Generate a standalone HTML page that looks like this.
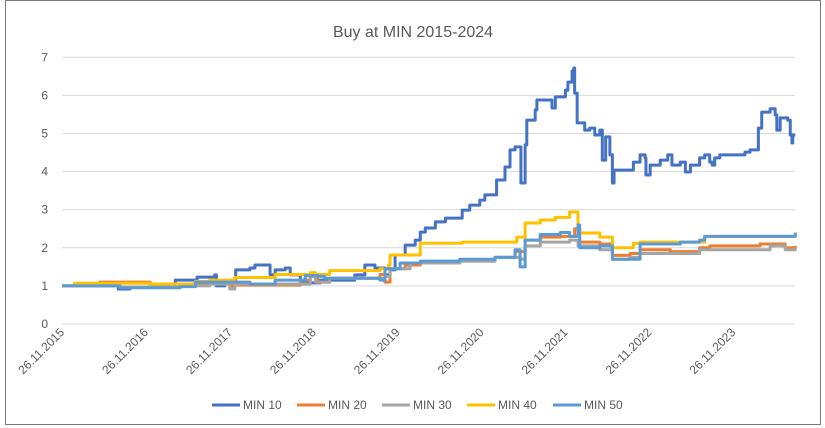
<!DOCTYPE html>
<html><head><meta charset="utf-8"><style>
body{margin:0;background:#fff;}
svg{display:block;font-family:"Liberation Sans",sans-serif;}
</style></head><body>
<svg id="chart" width="825" height="428">
<rect x="0" y="0" width="825" height="428" fill="#fff"/>
<rect x="5.5" y="0.5" width="815" height="424" fill="none" stroke="#7a7a7a" stroke-width="1"/>
<text x="413" y="37" text-anchor="middle" font-size="16" fill="#595959">Buy at MIN 2015-2024</text>
<g id="grid"></g><g id="yt"></g><g id="xt"></g><g id="series"></g><g id="legend"></g>
</svg>
<script>
const yTicks=[0,1,2,3,4,5,6,7];
const xTickLabels=["26.11.2015","26.11.2016","26.11.2017","26.11.2018","26.11.2019","26.11.2020","26.11.2021","26.11.2022","26.11.2023"];
const seriesNames=["MIN 10","MIN 20","MIN 30","MIN 40","MIN 50"];
const seriesColors=["#4472c4","#ed7d31","#a5a5a5","#ffc000","#5b9bd5"];
// years since 26.11.2015
const t10=[0,0.45,0.67,0.81,1.29,1.35,1.59,1.61,1.82,1.84,1.94,2.03,2.07,2.18,2.24,2.30,2.42,2.48,2.54,2.66,2.72,2.84,3.08,3.37,3.49,3.61,3.73,3.85,3.91,3.97,4.09,4.21,4.27,4.33,4.45,4.57,4.74,4.77,4.86,4.98,5.04,5.16,5.18,5.28,5.34,5.40,5.46,5.47,5.52,5.54,5.64,5.66,5.82,5.84,5.88,6.00,6.03,6.08,6.10,6.11,6.14,6.23,6.29,6.35,6.41,6.44,6.48,6.53,6.56,6.58,6.77,6.81,6.89,6.95,6.96,7.01,7.13,7.22,7.27,7.37,7.43,7.49,7.60,7.66,7.72,7.75,7.78,7.84,8.08,8.14,8.20,8.30,8.34,8.44,8.50,8.52,8.56,8.65,8.68,8.70,8.71,8.74];
const v10=[1.0,1.0,0.92,0.97,1.02,1.15,1.15,1.23,1.29,1.0,1.08,1.08,1.42,1.42,1.47,1.55,1.55,1.29,1.42,1.47,1.29,1.08,1.15,1.15,1.29,1.55,1.47,1.29,1.42,1.81,2.07,2.2,2.41,2.52,2.68,2.78,2.78,2.99,3.12,3.25,3.39,3.39,3.78,4.12,4.57,4.65,4.65,3.7,4.7,5.35,5.62,5.88,5.88,5.67,5.96,6.14,6.35,6.64,6.72,6.06,5.28,5.09,5.14,4.96,5.09,4.3,4.91,4.44,3.7,4.04,4.04,4.25,4.44,4.36,3.91,4.17,4.3,4.44,4.17,4.25,3.99,4.17,4.36,4.44,4.25,4.17,4.36,4.44,4.44,4.51,4.57,5.14,5.56,5.65,5.49,5.09,5.41,5.35,4.96,4.75,4.96,4.96];
const t20=[0,0.15,0.45,1.05,1.88,2.03,2.06,2.84,2.96,3.05,3.19,3.79,3.85,3.91,4.09,4.27,4.74,5.16,5.40,5.52,5.70,5.94,6.11,6.17,6.41,6.56,6.77,6.89,7.25,7.60,7.72,8.32,8.62,8.74];
const v20=[1.0,1.06,1.1,1.05,1.1,0.95,1.02,1.15,1.3,1.1,1.2,1.3,1.1,1.45,1.55,1.6,1.65,1.75,1.9,2.2,2.28,2.3,2.5,2.15,2.1,1.8,1.85,1.95,1.9,2.0,2.05,2.1,2.0,2.05];
const t30=[0,0.69,1.41,1.76,2.00,2.06,2.84,2.96,3.02,3.19,3.85,3.91,4.15,4.74,5.16,5.46,5.52,5.70,6.05,6.15,6.41,6.56,6.77,6.89,7.60,8.44,8.62,8.74];
const v30=[1.0,0.97,1.0,1.05,0.92,1.05,1.05,1.25,1.1,1.2,1.25,1.45,1.6,1.65,1.75,1.7,2.05,2.15,2.2,2.05,1.95,1.7,1.75,1.85,1.95,2.05,1.95,2.0];
const t40=[0,0.15,1.05,1.59,1.76,2.06,2.54,2.96,3.02,3.19,3.79,3.89,3.91,4.27,4.77,5.42,5.52,5.70,5.88,6.05,6.15,6.41,6.56,6.81,6.89,7.66,8.74];
const v40=[1.0,1.07,1.05,1.12,1.15,1.22,1.3,1.35,1.3,1.4,1.45,1.55,1.81,2.12,2.15,2.28,2.65,2.73,2.8,2.94,2.39,2.28,2.0,2.12,2.15,2.3,2.35];
const t50=[0,0.69,1.41,1.59,2.24,2.54,2.84,2.90,3.05,3.13,3.79,3.85,4.03,4.27,4.74,5.16,5.40,5.46,5.52,5.70,5.94,6.05,6.15,6.17,6.41,6.56,6.89,7.13,7.37,7.60,7.66,8.56,8.74];
const v50=[1.0,0.95,0.98,1.1,1.05,1.15,1.15,1.27,1.25,1.2,1.15,1.45,1.6,1.65,1.7,1.75,1.95,1.5,2.2,2.35,2.4,2.3,2.6,2.0,2.05,1.7,2.1,2.1,2.15,2.2,2.3,2.3,2.4];
const seriesT=[t10,t20,t30,t40,t50];
const seriesV=[v10,v20,v30,v40,v50];

const NS="http://www.w3.org/2000/svg";
const X0=62,XPY=83.9,XMAX=795,Y0=324,YPU=38.1;
const xs=t=>X0+t*XPY, ys=v=>Y0-v*YPU;
function mk(tag,attrs,parent){const e=document.createElementNS(NS,tag);for(const k in attrs)e.setAttribute(k,attrs[k]);parent.appendChild(e);return e;}
const grid=document.getElementById('grid'),yt=document.getElementById('yt'),xt=document.getElementById('xt'),sg=document.getElementById('series'),lg=document.getElementById('legend');
yTicks.forEach(v=>{
  const l=mk('line',{x1:X0,x2:XMAX,y1:ys(v),y2:ys(v),stroke:'#d9d9d9','stroke-width':1},grid);
  
  
  const t=mk('text',{x:48,y:ys(v)+4,'text-anchor':'end','font-size':12,fill:'#595959'},yt);
  t.textContent=v;
  
  
});
xTickLabels.forEach((s,i)=>{
  const x=xs(i)+3,y=333;
  const t=mk('text',{x:x,y:y,'text-anchor':'end','font-size':12,fill:'#595959',transform:`rotate(-45 ${x} ${y})`},xt);
  t.textContent=s;
  
  
});
seriesNames.forEach((n,i)=>{
  const T=seriesT[i],V=seriesV[i];
  let d=`M${xs(T[0])},${ys(V[0])}`;
  for(let k=1;k<T.length;k++){d+=` H${xs(T[k])} V${ys(V[k])}`;}
  d+=` H${xs(T[T.length-1])}`;
  const p=mk('path',{d:d,fill:'none',stroke:seriesColors[i],'stroke-width':3,'stroke-linejoin':'round'},sg);
  
  
});
const lx=[212,297,382,467,553];
seriesNames.forEach((n,i)=>{
  const g=mk('g',{},lg);
  
  
  mk('line',{x1:lx[i],x2:lx[i]+28,y1:405,y2:405,stroke:seriesColors[i],'stroke-width':3},g);
  const t=mk('text',{x:lx[i]+31,y:409,'font-size':12,fill:'#595959'},g);
  t.textContent=n;
});
</script>
</body></html>
